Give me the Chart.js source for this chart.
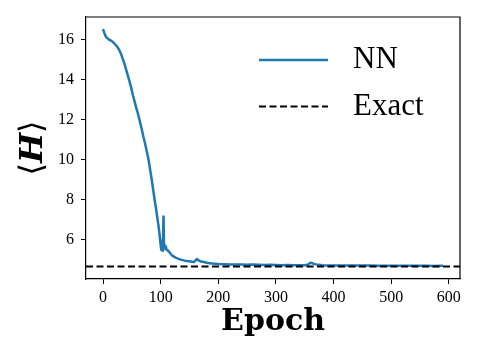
<!DOCTYPE html>
<html>
<head>
<meta charset="utf-8">
<script src="https://cdn.jsdelivr.net/npm/chart.js@4.4.1/dist/chart.umd.min.js"></script>
<style>
  html, body { margin: 0; padding: 0; background: #ffffff; }
  #wrap { width: 478px; height: 359px; position: relative; }
</style>
</head>
<body>
<div id="wrap"><canvas id="c" width="478" height="359"></canvas></div>
<script>
// ---- data ----
const epochs = [0,2,4,6,8,10,13,16,19,22,25,28,31,34,37,40,43,46,49,52,55,58,61,64,67,70,73,76,79,82,84,86,88,90,92,94,96,98,99,100,101,102,103,104,105,106,107,108,109,110,112,114,116,118,120,123,126,130,135,140,145,150,155,158,161,163,166,170,175,180,185,190,200,210,220,230,240,250,260,270,280,290,300,310,320,330,340,350,355,360,363,366,370,375,380,390,400,420,440,460,480,500,520,540,560,575,590];
const energyNN = [16.52,16.35,16.2,16.1,16.05,16.0,15.95,15.9,15.82,15.72,15.62,15.48,15.3,15.05,14.8,14.5,14.2,13.9,13.58,13.2,12.88,12.55,12.25,11.9,11.55,11.15,10.8,10.4,10.0,9.45,9.1,8.7,8.3,7.9,7.55,7.15,6.75,6.3,6.0,5.75,5.5,5.6,5.45,5.85,7.2,5.6,5.75,5.55,5.7,5.5,5.48,5.4,5.35,5.27,5.2,5.15,5.1,5.05,5.0,4.96,4.93,4.92,4.89,4.88,4.97,5.02,4.96,4.9,4.88,4.84,4.82,4.8,4.78,4.77,4.76,4.75,4.76,4.74,4.75,4.74,4.73,4.74,4.73,4.72,4.73,4.72,4.72,4.72,4.74,4.84,4.82,4.78,4.76,4.74,4.72,4.71,4.71,4.7,4.7,4.7,4.69,4.69,4.69,4.69,4.69,4.68,4.69];
const exactEnergy = 4.65;
const xRange = [-29.5, 619.5];
const yRange = [4.03, 17.12];
const xTickStep = 100;
const yTickStep = 2;
const seriesLabels = ['NN', 'Exact'];
const xTitle = 'Epoch';
const yTitleParts = ['\u27E8', 'H', '\u27E9'];

// ---- chart ----
const BLUE = '#1f77b4';
const nnPoints = epochs.map((e, i) => ({ x: e, y: energyNN[i] }));
const exactPoints = xRange.map(x => ({ x: x, y: exactEnergy }));

const framePlugin = {
  id: 'frame',
  afterDraw(chart) {
    const { ctx, chartArea: a } = chart;
    ctx.save();
    // top & right spines
    ctx.strokeStyle = '#000';
    ctx.lineWidth = 1.2;
    ctx.beginPath();
    ctx.moveTo(a.left, a.top);
    ctx.lineTo(a.right, a.top);
    ctx.lineTo(a.right, a.bottom);
    ctx.stroke();

    // legend (inside the axes, no frame)
    const ds = chart.data.datasets;
    const rows = [{ ds: ds[0], y: a.top + 43 }, { ds: ds[1], y: a.top + 89.5 }];
    rows.forEach(r => {
      ctx.beginPath();
      ctx.strokeStyle = r.ds.borderColor;
      ctx.lineWidth = r.ds.borderWidth;
      ctx.setLineDash(r.ds.borderDash || []);
      ctx.moveTo(a.right - 201, r.y);
      ctx.lineTo(a.right - 132, r.y);
      ctx.stroke();
      ctx.setLineDash([]);
      ctx.fillStyle = '#000';
      ctx.font = '31px "Liberation Serif", serif';
      ctx.textAlign = 'left';
      ctx.textBaseline = 'middle';
      ctx.fillText(r.ds.label, a.right - 107, r.y);
    });

    // y-axis title: regular brackets, bold-italic H
    const cx = 34, cy = (a.top + a.bottom) / 2;
    ctx.translate(cx, cy);
    ctx.rotate(-Math.PI / 2);
    const fReg = '32px "DejaVu Serif", serif';
    const fBI = 'italic bold 32px "DejaVu Serif", serif';
    const fonts = [fReg, fBI, fReg];
    const widths = yTitleParts.map((t, i) => { ctx.font = fonts[i]; return ctx.measureText(t).width; });
    const total = widths.reduce((s, w) => s + w, 0);
    let x = -total / 2;
    ctx.textBaseline = 'middle';
    ctx.textAlign = 'left';
    ctx.fillStyle = '#000';
    yTitleParts.forEach((t, i) => { ctx.font = fonts[i]; ctx.fillText(t, x, 0); x += widths[i]; });
    ctx.restore();
  }
};

const tickFont = { family: '"Liberation Serif", serif', size: 16 };

new Chart(document.getElementById('c'), {
  type: 'line',
  data: {
    datasets: [
      { label: seriesLabels[0], data: nnPoints, borderColor: BLUE, backgroundColor: BLUE,
        borderWidth: 2.5, pointRadius: 0, tension: 0, order: 2, fill: false },
      { label: seriesLabels[1], data: exactPoints, borderColor: '#000', backgroundColor: '#000',
        borderWidth: 2, borderDash: [7, 3.5], pointRadius: 0, tension: 0, order: 1, fill: false }
    ]
  },
  options: {
    responsive: false,
    animation: false,
    devicePixelRatio: 1,
    layout: { padding: { top: 17, right: 18, left: 0, bottom: 0 } },
    plugins: { legend: { display: false }, tooltip: { enabled: false } },
    scales: {
      x: {
        type: 'linear',
        min: xRange[0], max: xRange[1],
        afterFit(s) { s.height = 80; },
        ticks: { stepSize: xTickStep, includeBounds: false, color: '#000', font: tickFont, padding: 4, maxRotation: 0,
                 callback: v => String(v) },
        grid: { drawOnChartArea: false, drawTicks: true, tickLength: 5, color: '#000', tickWidth: 1 },
        border: { display: true, color: '#000', width: 1.2 },
        title: { display: true, text: xTitle, color: '#000', padding: { top: 0, bottom: 19 },
                 font: { family: '"DejaVu Serif", serif', size: 30, weight: 'bold' } }
      },
      y: {
        type: 'linear',
        min: yRange[0], max: yRange[1],
        afterFit(s) { s.width = 86; },
        ticks: { stepSize: yTickStep, includeBounds: false, color: '#000', font: tickFont, padding: 7,
                 callback: v => String(v) },
        grid: { drawOnChartArea: false, drawTicks: true, tickLength: 5, color: '#000', tickWidth: 1 },
        border: { display: true, color: '#000', width: 1.2 }
      }
    }
  },
  plugins: [framePlugin]
});
</script>
</body>
</html>
